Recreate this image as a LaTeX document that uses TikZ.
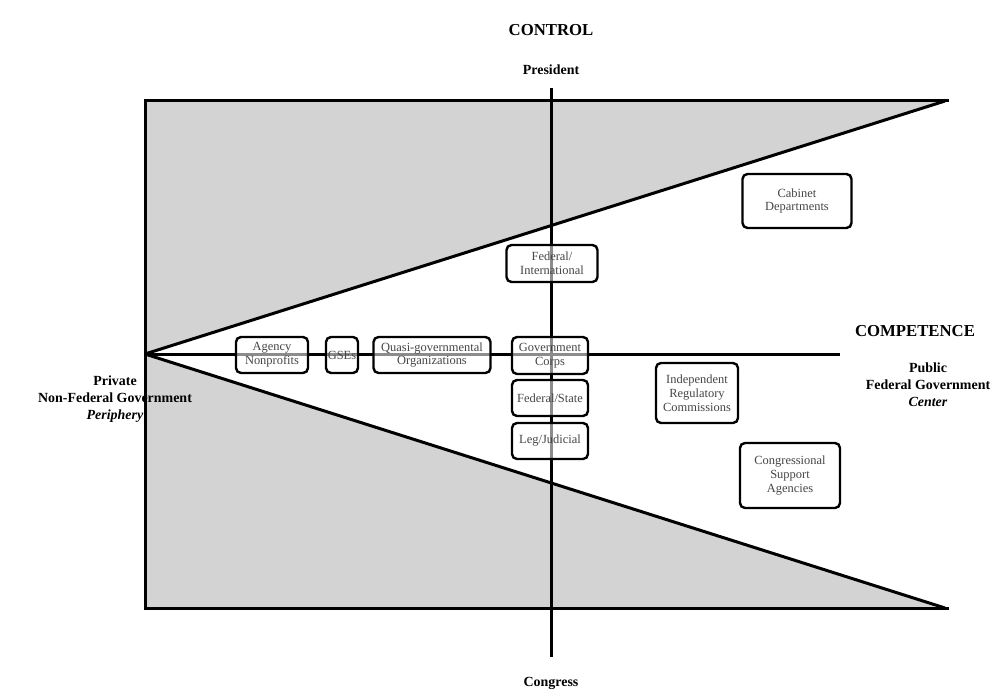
\documentclass[tikz,border=0pt]{standalone}
\usepackage{fontspec}
\setmainfont{Liberation Serif}
\definecolor{wedgegray}{RGB}{211,211,211}
\definecolor{boxtext}{RGB}{70,70,70}
\begin{document}
\begin{tikzpicture}[x=1bp,y=-1bp,
  box/.style={draw=black, line width=2.4bp, rounded corners=5bp, fill=white, fill opacity=0.55, text opacity=1,
    text=boxtext, font=\fontsize{12.5}{14}\selectfont, align=center, inner sep=0pt},
  frameline/.style={line width=3bp, black},
  axisline/.style={line width=3bp, black},
  biglabel/.style={font=\bfseries\fontsize{16.8}{20}\selectfont},
  sidelabel/.style={font=\bfseries\fontsize{14}{17}\selectfont, align=center}]
\useasboundingbox (0,0) rectangle (1008,698);
\fill[white] (0,0) rectangle (1008,698);
% key points
\coordinate (apex) at (145,354);
\coordinate (tl) at (145,101);
\coordinate (bl) at (145,608);
\coordinate (tr) at (945,101);
\coordinate (br) at (945,608);
\coordinate (trx) at (949,101);
\coordinate (brx) at (949,608);
\coordinate (haxR) at (840,354);
\coordinate (vaxT) at (551,88);
\coordinate (vaxB) at (551,657);
% shaded wedges
\fill[wedgegray] (tl) -- (tr) -- (apex) -- cycle;
\fill[wedgegray] (apex) -- (br) -- (bl) -- cycle;
% frame
\draw[frameline] (trx) -- (tl) -- (bl) -- (brx);
\draw[frameline] (apex) -- (tr);
\draw[frameline] (apex) -- (br);
% axes
\draw[axisline] (apex) -- (haxR);
\draw[axisline] (vaxT) -- (vaxB);
% boxes
\node[box, minimum width=72bp, minimum height=36bp] (an) at (272,355) {Agency\\Nonprofits};
\node[box, minimum width=32bp, minimum height=36bp] (gse) at (342,355) {GSEs};
\node[box, minimum width=117bp, minimum height=36bp] (quasi) at (432,355) {Quasi-governmental\\Organizations};
\node[box, minimum width=91bp, minimum height=37bp] (fi) at (552,263.5) {Federal/\\International};
\node[box, minimum width=76bp, minimum height=37bp] (gc) at (550,355.5) {Government\\Corps};
\node[box, minimum width=76bp, minimum height=36bp] (fs) at (550,398) {Federal/State};
\node[box, minimum width=76bp, minimum height=36bp] (lj) at (550,441) {Leg/Judicial};
\node[box, minimum width=109bp, minimum height=54bp] (cab) at (797,201) {Cabinet\\Departments};
\node[box, minimum width=82bp, minimum height=60bp] (irc) at (697,393) {Independent\\Regulatory\\Commissions};
\node[box, minimum width=100bp, minimum height=65bp] (csa) at (790,475.5) {Congressional\\Support\\Agencies};
% labels
\node[biglabel] (control) at (551,30) {CONTROL};
\node[sidelabel] (pres) at (551,70) {President};
\node[sidelabel] (cong) at (551,683) {Congress};
\node[biglabel] (comp) at (915,331) {COMPETENCE};
\node[sidelabel] (pub) at (928,385) {Public\\Federal Government\\\textit{Center}};
\node[sidelabel] (priv) at (115,399) {Private\\Non-Federal Government\\\textit{Periphery}};
\end{tikzpicture}
\end{document}
